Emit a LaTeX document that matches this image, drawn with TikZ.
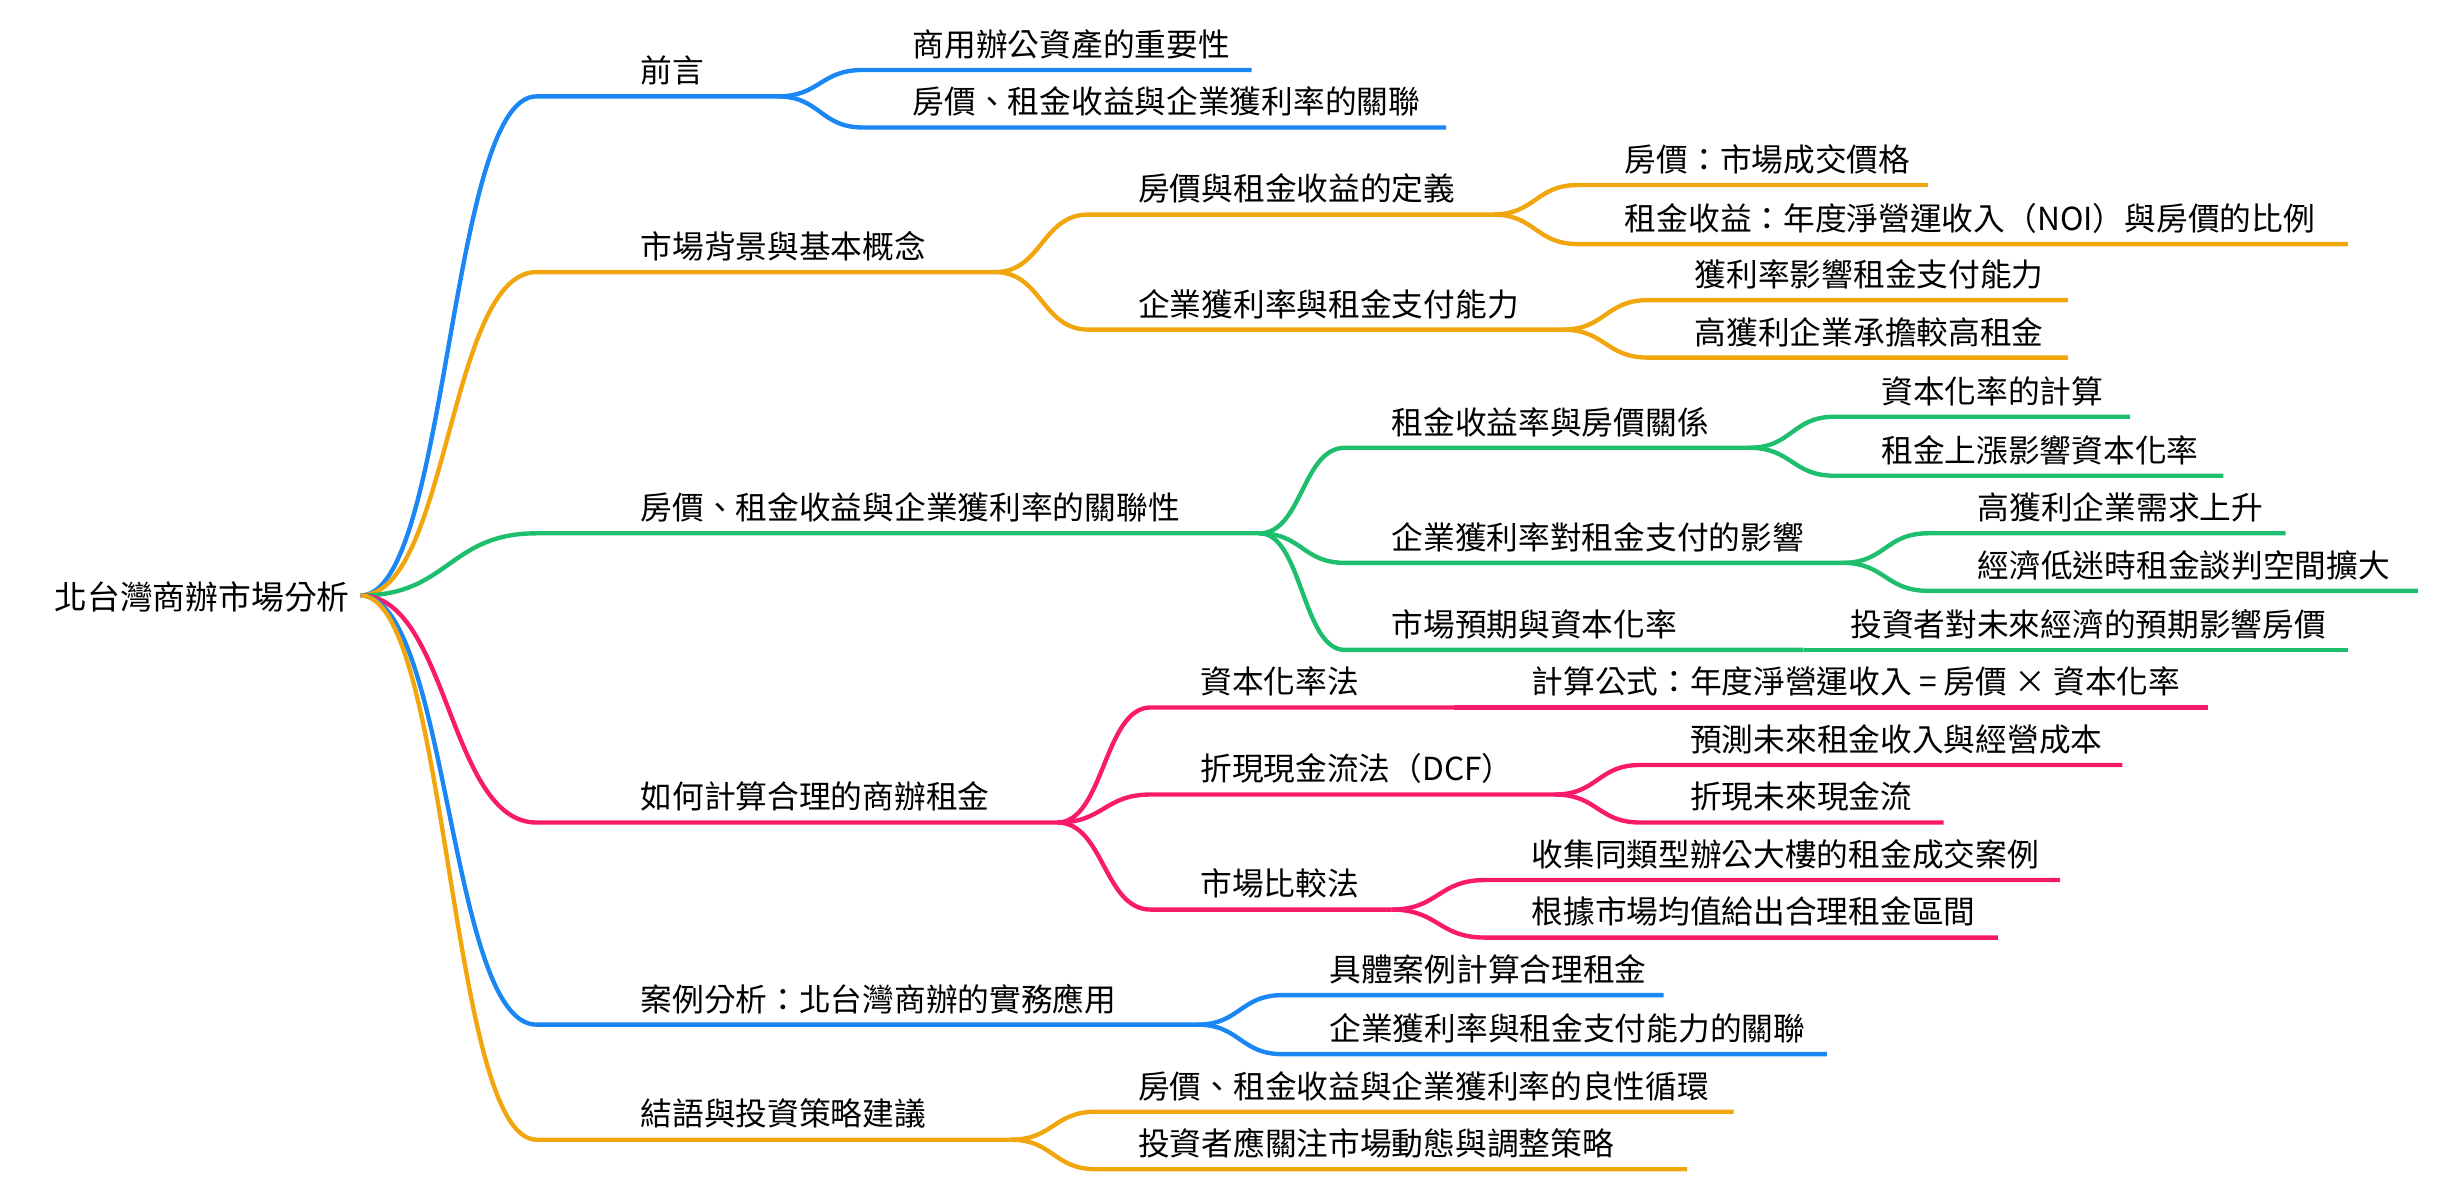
\documentclass[tikz,border=0pt]{standalone}
\usepackage{fontspec}
\setmainfont{Noto Sans CJK TC}
\usetikzlibrary{calc}
\definecolor{mmblue}{HTML}{1A87F5}
\definecolor{mmorange}{HTML}{F2A60D}
\definecolor{mmgreen}{HTML}{1DBE6E}
\definecolor{mmpink}{HTML}{FA1A6A}
\tikzset{mmline/.style={line width=0.8pt},
  mmtext/.style={inner sep=1.8pt,font=\fontsize{5.8}{7}\selectfont,anchor=south west}}
% name, colour, parent, x start, y, x end, text x, text
\newcommand{\mmnode}[8]{%
  \coordinate (#1-s) at (#4,#5);
  \coordinate (#1) at (#6,#5);
  \coordinate (#1-m) at ($(#3)!0.5!(#1-s)$);
  \draw[#2,mmline] (#3) .. controls (#1-m |- #3) and (#1-m |- #1-s) .. (#1-s) -- (#1);
  \node[mmtext] (#1-t) at (#7,#5) {#8};}

\begin{document}
\begin{tikzpicture}[x=0.01cm,y=-0.01cm]
\useasboundingbox (0,0) rectangle (1568,767);
\node[mmtext,anchor=west,font=\fontsize{6}{7}\selectfont] (root-t) at (28,384) {北台灣商辦市場分析};
\coordinate (root) at (232,383);
% intro
\mmnode{a}{mmblue}{root}{345}{62}{500}{405}{前言}
\mmnode{a1}{mmblue}{a}{555}{45}{805}{580}{商用辦公資產的重要性}
\mmnode{a2}{mmblue}{a}{555}{82}{930}{580}{房價、租金收益與企業獲利率的關聯}
% background
\mmnode{b}{mmorange}{root}{345}{175}{640}{405}{市場背景與基本概念}
\mmnode{b1}{mmorange}{b}{700}{138}{960}{725}{房價與租金收益的定義}
\mmnode{b11}{mmorange}{b1}{1015}{119}{1240}{1038}{房價：市場成交價格}
\mmnode{b12}{mmorange}{b1}{1015}{157}{1510}{1038}{租金收益：年度淨營運收入（NOI）與房價的比例}
\mmnode{b2}{mmorange}{b}{700}{212}{1005}{725}{企業獲利率與租金支付能力}
\mmnode{b21}{mmorange}{b2}{1060}{193}{1330}{1083}{獲利率影響租金支付能力}
\mmnode{b22}{mmorange}{b2}{1060}{230}{1330}{1083}{高獲利企業承擔較高租金}
% relation
\mmnode{c}{mmgreen}{root}{345}{343}{810}{405}{房價、租金收益與企業獲利率的關聯性}
\mmnode{c1}{mmgreen}{c}{865}{288}{1125}{888}{租金收益率與房價關係}
\mmnode{c11}{mmgreen}{c1}{1180}{268}{1370}{1203}{資本化率的計算}
\mmnode{c12}{mmgreen}{c1}{1180}{306}{1430}{1203}{租金上漲影響資本化率}
\mmnode{c2}{mmgreen}{c}{865}{362}{1185}{888}{企業獲利率對租金支付的影響}
\mmnode{c21}{mmgreen}{c2}{1240}{343}{1470}{1265}{高獲利企業需求上升}
\mmnode{c22}{mmgreen}{c2}{1240}{380}{1555}{1265}{經濟低迷時租金談判空間擴大}
\mmnode{c3}{mmgreen}{c}{865}{418}{1160}{888}{市場預期與資本化率}
\mmnode{c31}{mmgreen}{c3}{1160}{418}{1510}{1183}{投資者對未來經濟的預期影響房價}
% calculation
\mmnode{d}{mmpink}{root}{345}{529}{680}{405}{如何計算合理的商辦租金}
\mmnode{d1}{mmpink}{d}{740}{455}{935}{765}{資本化率法}
\mmnode{d11}{mmpink}{d1}{955}{455}{1420}{978}{計算公式：年度淨營運收入 = 房價 × 資本化率}
\mmnode{d2}{mmpink}{d}{740}{511}{1000}{765}{折現現金流法（DCF）}
\mmnode{d21}{mmpink}{d2}{1055}{492}{1365}{1080}{預測未來租金收入與經營成本}
\mmnode{d22}{mmpink}{d2}{1055}{529}{1250}{1080}{折現未來現金流}
\mmnode{d3}{mmpink}{d}{740}{585}{895}{765}{市場比較法}
\mmnode{d31}{mmpink}{d3}{955}{566}{1325}{978}{收集同類型辦公大樓的租金成交案例}
\mmnode{d32}{mmpink}{d3}{955}{603}{1285}{978}{根據市場均值給出合理租金區間}
% case
\mmnode{e}{mmblue}{root}{345}{659}{770}{405}{案例分析：北台灣商辦的實務應用}
\mmnode{e1}{mmblue}{e}{825}{640}{1070}{848}{具體案例計算合理租金}
\mmnode{e2}{mmblue}{e}{825}{678}{1175}{848}{企業獲利率與租金支付能力的關聯}
% conclusion
\mmnode{f}{mmorange}{root}{345}{733}{650}{405}{結語與投資策略建議}
\mmnode{f1}{mmorange}{f}{705}{715}{1115}{725}{房價、租金收益與企業獲利率的良性循環}
\mmnode{f2}{mmorange}{f}{705}{752}{1085}{725}{投資者應關注市場動態與調整策略}
\end{tikzpicture}
\end{document}
